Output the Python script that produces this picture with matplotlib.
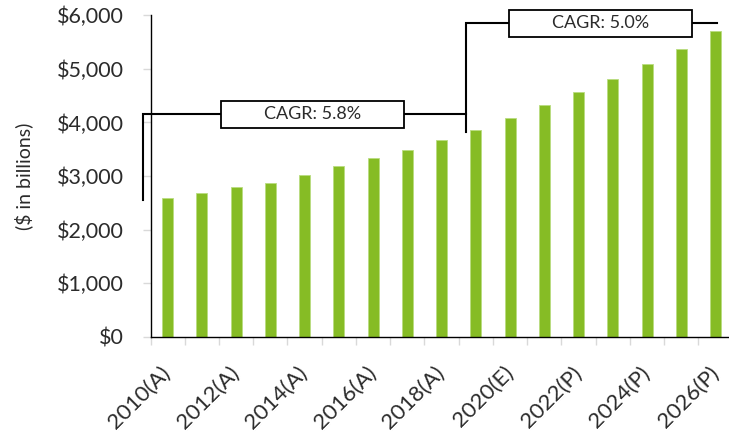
import numpy as np
import matplotlib
matplotlib.use('Agg')
import matplotlib.pyplot as plt
from matplotlib.patches import Rectangle
from matplotlib.ticker import FuncFormatter, FixedLocator

plt.rcParams['font.family'] = ['Lato', 'DejaVu Sans']

# data
years = ['2010(A)', '2011(A)', '2012(A)', '2013(A)', '2014(A)', '2015(A)', '2016(A)',
         '2017(A)', '2018(A)', '2019(A)', '2020(E)', '2021(P)', '2022(P)', '2023(P)',
         '2024(P)', '2025(P)', '2026(P)']
values = [2590, 2685, 2795, 2870, 3020, 3190, 3335, 3485, 3670, 3860,
          4090, 4320, 4560, 4815, 5090, 5370, 5700]
yticks = [0, 1000, 2000, 3000, 4000, 5000, 6000]

# CAGR brackets: (label, x start, x end, line level, lower end of left leg)
cagr_labels = ['CAGR: 5.8%', 'CAGR: 5.0%']
cagr_x0 = [-0.715, 8.72]
cagr_x1 = [8.72, 16.04]
cagr_level = [4157, 5850]
cagr_leg_bottom = [2552, 3819]
cagr_box_center = [4.23, 12.63]

green = '#86BC25'
text_col = '#2b2b2b'

fig = plt.figure(figsize=(7.29, 4.38), dpi=100)
ax = fig.add_axes([150.5 / 729, 101.3 / 438, 582.2 / 729, 321.4 / 438])

x = np.arange(len(years))
ax.bar(x, values, width=0.32, color=green, edgecolor='#b9dc80', linewidth=0.6, zorder=2)

ax.set_xlim(-0.5, len(years) - 0.5)
ax.set_ylim(0, 6000)

for s in ['top', 'right']:
    ax.spines[s].set_visible(False)
for s in ['left', 'bottom']:
    ax.spines[s].set_color('black')
    ax.spines[s].set_linewidth(1.0)

ax.set_yticks(yticks)
ax.yaxis.set_major_formatter(FuncFormatter(lambda v, p: '${:,.0f}'.format(v)))
ax.tick_params(axis='y', length=6, color='#d9d9d9', width=1, pad=13,
               labelsize=15.5, labelcolor=text_col)

# category boundaries as minor ticks, labels on every other year
ax.xaxis.set_minor_locator(FixedLocator(np.arange(-0.5, len(years), 1.0)))
ax.set_xticks(x[::2])
ax.set_xticklabels(years[::2], rotation=45, ha='right', va='center',
                   rotation_mode='anchor')
ax.tick_params(axis='x', which='major', length=0, pad=24, labelsize=16,
               labelcolor=text_col)
ax.tick_params(axis='x', which='minor', length=6, color='#d9d9d9', width=1)

ax.set_ylabel('($ in billions)', fontsize=14, color=text_col, labelpad=17)

# CAGR brackets
box_w = 5.34
box_h = 504
for lab, x0, x1, lvl, lb, bc in zip(cagr_labels, cagr_x0, cagr_x1, cagr_level,
                                    cagr_leg_bottom, cagr_box_center):
    ax.plot([x0, x0, x1], [lb, lvl, lvl], color='black', lw=1.5,
            clip_on=False, zorder=3, solid_joinstyle='miter')
    ax.add_patch(Rectangle((bc - box_w / 2, lvl - box_h / 2), box_w, box_h,
                           facecolor='white', edgecolor='black', lw=1.3,
                           clip_on=False, zorder=4))
    ax.text(bc, lvl, lab, ha='center', va='center', fontsize=13,
            color=text_col, zorder=5)

fig.savefig('out.png', dpi=100)
